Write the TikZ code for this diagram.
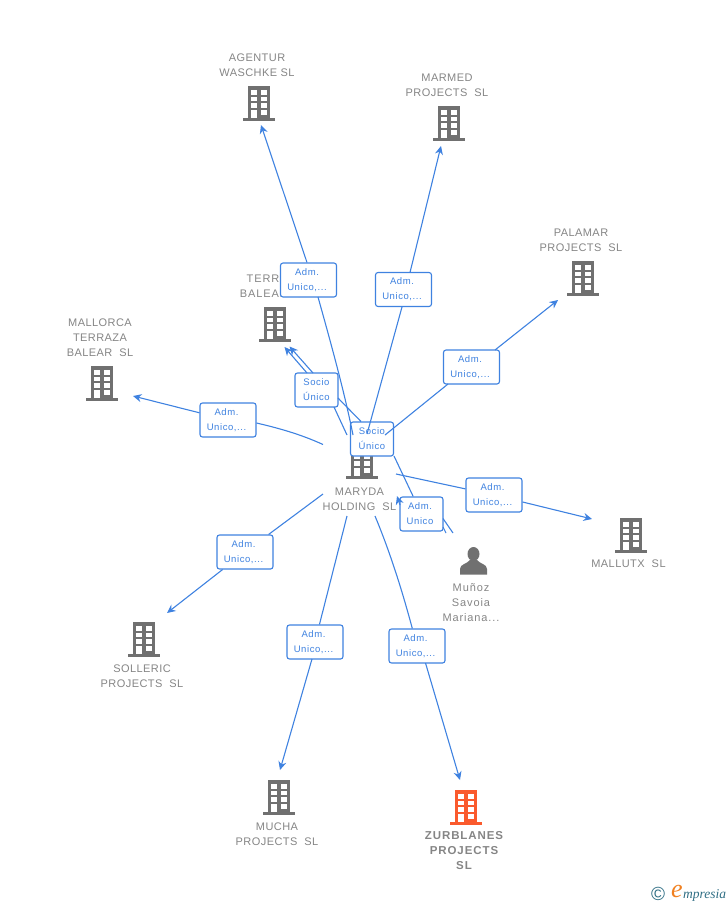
\documentclass[tikz,border=0pt]{standalone}
\usepackage{fontspec}
\setmainfont{Liberation Sans}
\newfontfamily\lblfont[LetterSpace=4]{Liberation Sans}
\newfontfamily\perfont[LetterSpace=8]{Liberation Sans}
\newfontfamily\boxfont[LetterSpace=6]{Liberation Sans}
\newfontfamily\logofont{Liberation Serif}
\usetikzlibrary{arrows.meta}
\definecolor{lnk}{HTML}{3F82E0}
\definecolor{txtg}{HTML}{858585}
\definecolor{icong}{HTML}{707070}
\definecolor{iconr}{HTML}{FA5A2D}
\definecolor{logot}{HTML}{2F6E84}
\definecolor{logoo}{HTML}{F08020}
\tikzset{
  lbl/.style={font=\lblfont\fontsize{11}{15}\selectfont,text=txtg,align=center,inner sep=0pt},
  lblp/.style={font=\perfont\fontsize{11}{15}\selectfont,text=txtg,align=center,inner sep=0pt},
  lblb/.style={font=\perfont\bfseries\fontsize{11.5}{15}\selectfont,text=txtg,align=center,inner sep=0pt},
  rel/.style={draw=lnk,fill=white,line width=1.1pt,rounded corners=2.5pt,minimum width=#1,minimum height=34pt,inner sep=0pt,
     font=\boxfont\fontsize{9.5}{15}\selectfont,text=lnk,align=center},
  rel/.default=56pt,
  con/.style={draw=lnk,line width=1.1pt},
  arr/.style={con,-{Stealth[length=8.5pt,width=8pt]}},
  pics/bldg/.style={code={
    \fill[#1] (-11,0) rectangle (11,32);
    \fill[#1] (-16,32) rectangle (16,34.5);
    \foreach \cx in {-7.9,2.1}{
      \fill[white] (\cx,3.5) rectangle ++(5.8,5);
      \fill[white] (\cx,10.8) rectangle ++(5.8,4.6);
      \fill[white] (\cx,17.2) rectangle ++(5.8,4.8);
    }
    \fill[white] (-7.9,24) rectangle ++(5.8,8);
    \fill[white] (2.1,24) rectangle ++(5.8,4.8);
  }}
}
\begin{document}
\begin{tikzpicture}[x=1pt,y=-1pt]
\useasboundingbox (0,0) rectangle (728,905);
% icons
\pic at (259,86) {bldg=icong};
\pic at (449,106) {bldg=icong};
\pic at (583,261) {bldg=icong};
\pic at (275,307) {bldg=icong};
\pic at (102,366) {bldg=icong};
\pic at (362,444) {bldg=icong};
\pic at (631,518) {bldg=icong};
\pic at (144,622) {bldg=icong};
\pic at (279,780) {bldg=icong};
\pic at (466,790) {bldg=iconr};
% person
\fill[icong] (473.5,554) ellipse (6pt and 7pt);
\fill[icong] (460,574.5) -- (460,569) .. controls (460,564) and (467,564) .. (470,560) -- (477,560) .. controls (480,564) and (487,564) .. (487,569) -- (487,574.5) -- cycle;
% labels
\node[lbl] (nAgentur) at (257,65) {AGENTUR\\WASCHKE SL};
\node[lbl] (nMarmed) at (447,85) {MARMED\\PROJECTS\ \ SL};
\node[lbl] (nPalamar) at (581,240) {PALAMAR\\PROJECTS\ \ SL};
\node[lblp] (nTerraza) at (275,286) {TERRAZA\\BALEAR\ \ SL};
\node[lbl] (nMallorca) at (100,338) {MALLORCA\\TERRAZA\\BALEAR\ \ SL};
\node[lbl] (nMaryda) at (359.5,499) {MARYDA\\HOLDING\ \ SL};
\node[lbl] (nMallutx) at (628.5,564) {MALLUTX\ \ SL};
\node[lbl] (nSolleric) at (142,676) {SOLLERIC\\PROJECTS\ \ SL};
\node[lbl] (nMucha) at (277,834) {MUCHA\\PROJECTS\ \ SL};
\node[lblb] (nZurb) at (464,851) {ZURBLANES\\PROJECTS\\SL};
\node[lblp] (nMunoz) at (471,603) {Muñoz\\Savoia\\Mariana...};
% relation boxes
\node[rel] (bAgentur) at (308.5,280) {\hspace*{-3pt}Adm.\\\hspace*{-3pt}Unico,...};
\node[rel] (bMarmed) at (403.5,289.5) {\hspace*{-3pt}Adm.\\\hspace*{-3pt}Unico,...};
\node[rel] (bPalamar) at (471.5,367) {\hspace*{-3pt}Adm.\\\hspace*{-3pt}Unico,...};
\node[rel=43pt] (bTerraza) at (316.5,390) {Socio\\Único};
\node[rel] (bMallorca) at (228,420) {\hspace*{-3pt}Adm.\\\hspace*{-3pt}Unico,...};
\node[rel=43pt] (bSocio) at (372,439) {Socio\\Único};
\node[rel] (bMallutx) at (494,495) {\hspace*{-3pt}Adm.\\\hspace*{-3pt}Unico,...};
\node[rel=43pt] (bAdm) at (421.5,514) {\hspace*{-3pt}Adm.\\\hspace*{-3pt}Unico};
\node[rel] (bSolleric) at (245,552) {\hspace*{-3pt}Adm.\\\hspace*{-3pt}Unico,...};
\node[rel] (bMucha) at (315,642) {\hspace*{-3pt}Adm.\\\hspace*{-3pt}Unico,...};
\node[rel] (bZurb) at (417,646) {\hspace*{-3pt}Adm.\\\hspace*{-3pt}Unico,...};
% free ends
\coordinate (sA) at (353,435);
\coordinate (sB) at (367,434);
\coordinate (sC) at (385,435);
\coordinate (sD) at (347,435);
\coordinate (sD2) at (361,421.5);
\coordinate (sE) at (323,444.5);
\coordinate (sF) at (396,474);
\coordinate (sG) at (323,494);
\coordinate (sH) at (347,516);
\coordinate (sI) at (375,516);
\coordinate (sJ) at (453,533);
\coordinate (sJ2) at (446,533);
\coordinate (tA) at (261,125);
\coordinate (tB) at (441,146);
\coordinate (tC) at (558,300);
\coordinate (tD) at (284.5,347);
\coordinate (tD2) at (289.5,346.5);
\coordinate (tE) at (133,396);
\coordinate (tF) at (592,519);
\coordinate (tG) at (167,613);
\coordinate (tH) at (280,770);
\coordinate (tI) at (460,780);
\coordinate (tJ) at (397,496);
\coordinate (jA) at (318,297);
\coordinate (jA2) at (307,262.5);
\coordinate (jB) at (402,307);
\coordinate (jB2) at (410,272.5);
\coordinate (jC) at (448,384);
\coordinate (jC2) at (495,350);
\coordinate (jE) at (256.5,423);
\coordinate (jI) at (425.5,663);
\coordinate (jH) at (312,659);
\coordinate (jT1) at (307,373);
\coordinate (jT2) at (313,373);
\coordinate (jT3) at (334,407);
\coordinate (jT4) at (338,398);
\coordinate (jS) at (394,456);
\coordinate (jK) at (443,518.5);
\coordinate (jL) at (443,527);
\coordinate (jM) at (400,505);
% connectors
\draw[con] (sA) .. controls (344,390) and (330,340) .. (jA);
\draw[arr] (jA2) -- (tA);
\draw[con] (sB) -- (jB);
\draw[arr] (jB2) -- (tB);
\draw[con] (sC) -- (jC);
\draw[arr] (jC2) -- (tC);
\draw[con] (sD) -- (jT3);
\draw[con] (sD2) -- (jT4);
\draw[arr] (jT1) -- (tD);
\draw[arr] (jT2) -- (tD2);
\draw[con] (sE) .. controls (300,434) and (278,428) .. (jE);
\draw[arr] (bMallorca) -- (tE);
\draw[con] (sF) -- (bMallutx);
\draw[arr] (bMallutx) -- (tF);
\draw[con] (sG) -- (bSolleric);
\draw[arr] (bSolleric) -- (tG);
\draw[con] (sH) -- (bMucha);
\draw[arr] (jH) -- (tH);
\draw[con] (sI) .. controls (390,552) and (402,590) .. (bZurb);
\draw[arr] (jI) -- (tI);
\draw[con] (jS) -- (bAdm);
\draw[con] (jK) -- (sJ);
\draw[con] (jL) -- (sJ2);
\draw[arr] (jM) -- (tJ);
% logo
\node[inner sep=0pt,text=logot,font=\fontsize{19}{19}\selectfont] (logoC) at (658,894) {©};
\node[inner sep=0pt,text=logoo,font=\logofont\itshape\fontsize{26}{26}\selectfont] (logoE) at (677,891.5) {e};
\node[anchor=west,inner sep=0pt,text=logot,font=\logofont\itshape\fontsize{13.5}{13.5}\selectfont] (logoT) at (683,895) {mpresia};
\end{tikzpicture}
\end{document}
